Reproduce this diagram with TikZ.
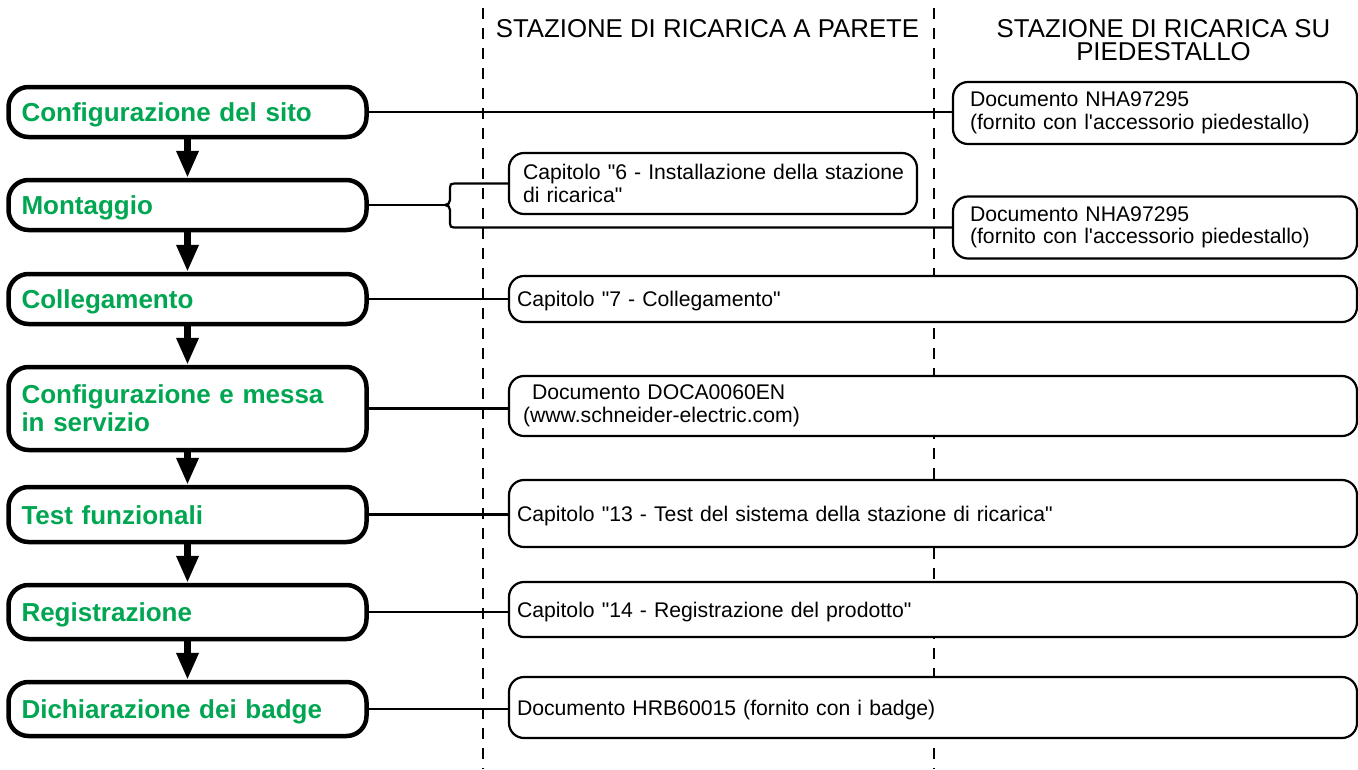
\documentclass[tikz,border=0pt]{standalone}
\usepackage{fontspec}
\setmainfont{Liberation Sans}
\usetikzlibrary{arrows.meta}
\definecolor{sgreen}{RGB}{0,166,81}
\begin{document}
\begin{tikzpicture}[x=1pt,y=-1pt,
  lbox/.style={draw, line width=4.5pt, rounded corners=20pt, fill=white,
    font=\bfseries\fontsize{26}{28}\selectfont, text=sgreen,
    inner xsep=13pt, inner ysep=0pt, text width=332pt, align=left},
  lone/.style={text height=19pt, text depth=0pt},
  rbox/.style={draw, line width=2.2pt, rounded corners=15pt, fill=white,
    font=\fontsize{21.2}{22.5}\selectfont, inner ysep=0pt, align=left},
  rone/.style={text height=15.2pt, text depth=0pt},
  conn/.style={line width=2.2pt},
  flow/.style={line width=6.5pt, -{Triangle[length=27pt,width=21pt]}},
  dashline/.style={line width=2.6pt, dash pattern=on 11pt off 9pt},
  hdr/.style={font=\fontsize{25.8}{23}\selectfont, align=center, inner sep=0pt}
]
\useasboundingbox (0,0) rectangle (1358,769);

% column separators
\coordinate (d1t) at (483,8);
\coordinate (d1b) at (483,769);
\coordinate (d2t) at (934,8);
\coordinate (d2b) at (934,769);
\draw[dashline] (d1t) -- (d1b);
\draw[dashline] (d2t) -- (d2b);

% headers
\node[hdr] (h1) at (707.5,29) {STAZIONE DI RICARICA A PARETE};
\node[hdr] (h2) at (1163.5,40.5) {STAZIONE DI RICARICA SU\\PIEDESTALLO};

\coordinate (bn) at (445,205);

% left process boxes
\node[lbox, lone, minimum height=50pt] (b1) at (187.5,112) {Configurazione del sito};
\node[lbox, lone, minimum height=50pt] (b2) at (187.5,205) {Montaggio};
\node[lbox, lone, minimum height=50pt] (b3) at (187.5,299) {Collegamento};
\node[lbox, minimum height=83pt] (b4) at (187.5,408.5) {Configurazione e messa\\in servizio};
\node[lbox, lone, minimum height=55pt] (b5) at (187.5,514.5) {Test funzionali};
\node[lbox, lone, minimum height=54pt] (b6) at (187.5,612) {Registrazione};
\node[lbox, lone, minimum height=54pt] (b7) at (187.5,709) {Dichiarazione dei badge};

% right document boxes
\node[rbox, minimum height=62pt, inner xsep=17pt, text width=370pt] (r1) at (1155,113)
  {Documento NHA97295\\(fornito con l\textquotesingle accessorio piedestallo)};
\node[rbox, minimum height=62pt, inner xsep=17pt, text width=370pt] (r2) at (1155,227.5)
  {Documento NHA97295\\(fornito con l\textquotesingle accessorio piedestallo)};
\node[rbox, minimum height=61pt, inner xsep=14pt, text width=380pt] (c6) at (713,183.5)
  {\mbox{Capitolo \textquotedbl 6 - Installazione della stazione}\\di ricarica\textquotedbl};
\node[rbox, rone, minimum height=46pt, inner xsep=8pt, text width=832pt] (c7) at (933,299)
  {Capitolo \textquotedbl 7 - Collegamento\textquotedbl};
\node[rbox, minimum height=60pt, inner xsep=14pt, text width=820pt] (doca) at (933,406)
  {\hspace*{9pt}Documento DOCA0060EN\\(www.schneider-electric.com)};
\node[rbox, rone, minimum height=67pt, inner xsep=8pt, text width=832pt] (c13) at (933,513.5)
  {Capitolo \textquotedbl 13 - Test del sistema della stazione di ricarica\textquotedbl};
\node[rbox, rone, minimum height=55pt, inner xsep=8pt, text width=832pt] (c14) at (933,609.5)
  {Capitolo \textquotedbl 14 - Registrazione del prodotto\textquotedbl};
\node[rbox, rone, minimum height=61pt, inner xsep=8pt, text width=832pt] (hrb) at (933,707.5)
  {Documento HRB60015 (fornito con i badge)};

% connectors
\draw[conn] (b1.east) -- (b1.east -| r1.west);
\draw[conn] (b3.east) -- (b3.east -| c7.west);
\draw[conn] (b4.east) -- (b4.east -| doca.west);
\draw[conn] (b5.east) -- (b5.east -| c13.west);
\draw[conn] (b6.east) -- (b6.east -| c14.west);
\draw[conn] (b7.east) -- (b7.east -| hrb.west);

% brace for Montaggio
\draw[conn] (b2.east) -- (bn);
\draw[conn] (c6.west) -- (454,183.5) .. controls (451,183.5) and (450,184.5) .. (450,187.5)
  -- (450,200) .. controls (450,203) and (448,205) .. (bn)
  .. controls (448,205) and (450,207) .. (450,210)
  -- (450,223.5) .. controls (450,226.5) and (451,227.5) .. (454,227.5) -- (r2.west);

% flow arrows
\draw[flow] (b1.south) -- (b2.north);
\draw[flow] (b2.south) -- (b3.north);
\draw[flow] (b3.south) -- (b4.north);
\draw[flow] (b4.south) -- (b5.north);
\draw[flow] (b5.south) -- (b6.north);
\draw[flow] (b6.south) -- (b7.north);
\end{tikzpicture}
\end{document}
